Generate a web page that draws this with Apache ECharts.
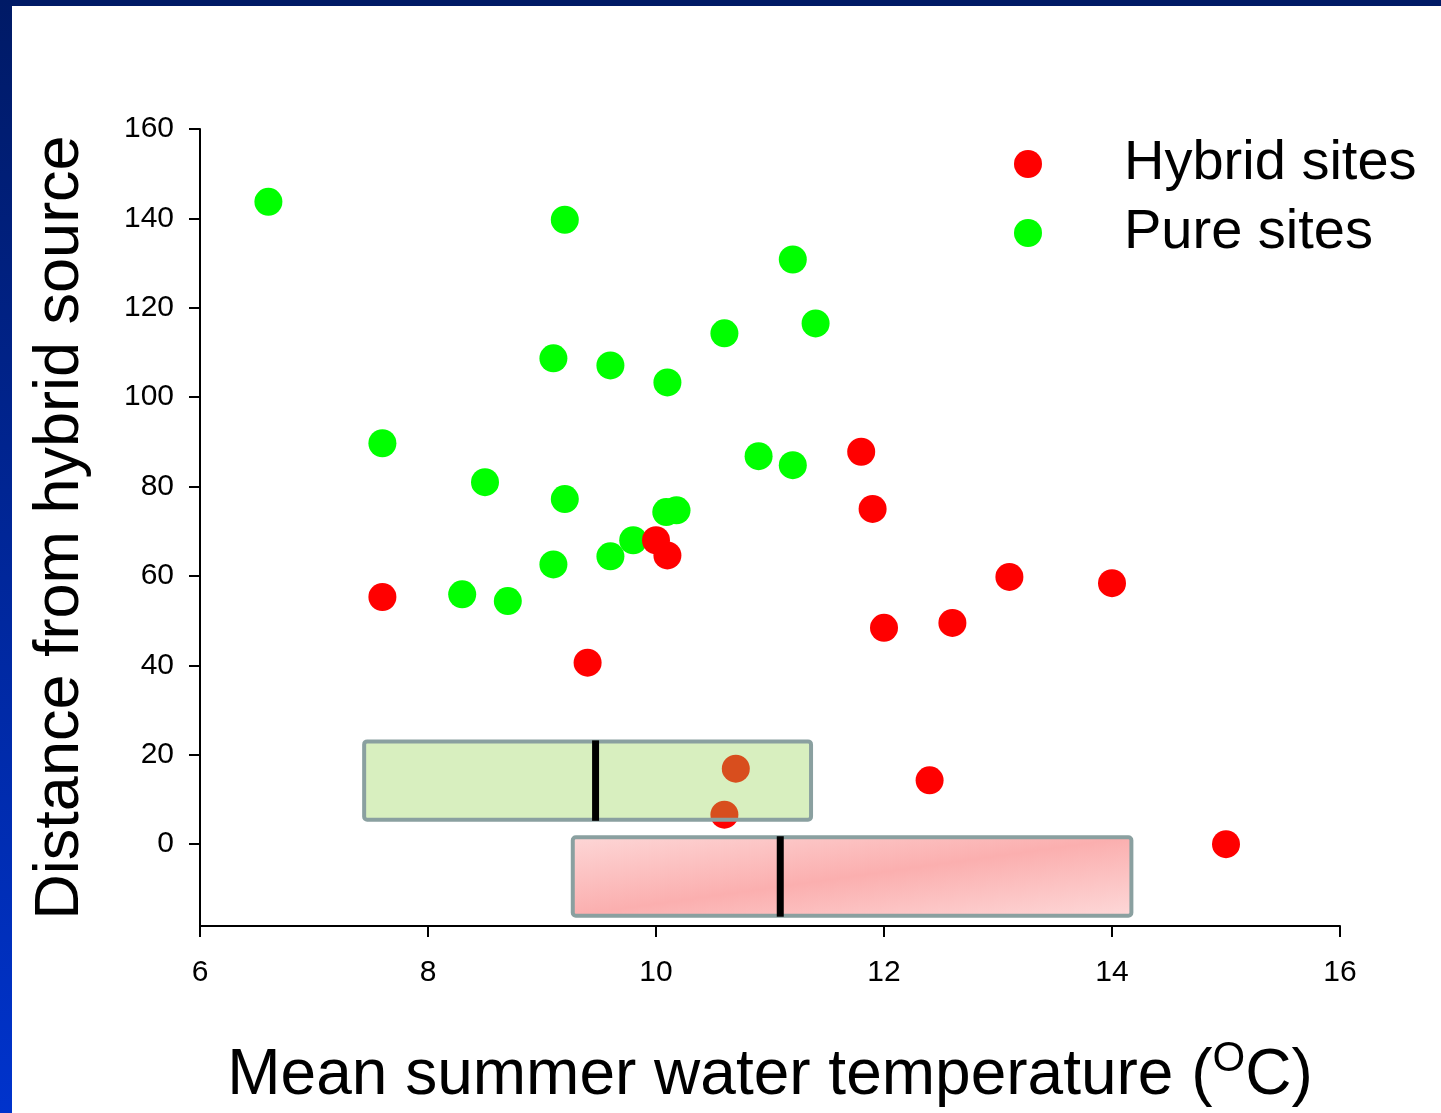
<!DOCTYPE html>
<html>
<head>
<meta charset="utf-8">
<script src="https://cdn.jsdelivr.net/npm/echarts@6/dist/echarts.min.js"></script>
<style>
html,body{margin:0;padding:0;background:#fff;}
#chart{width:1441px;height:1113px;}
</style>
</head>
<body>
<div id="chart"></div>
<script>
// ---- Data ----
const hybridTemp = [11.8, 11.9, 10.0, 10.1, 13.1, 14.0, 7.6, 12.6, 12.0, 9.4, 10.7, 10.6, 12.4, 15.0];
const hybridDist = [87.8, 75.0, 68.0, 64.6, 59.8, 58.4, 55.3, 49.5, 48.4, 40.6, 16.9, 6.6, 14.3, 0];

const pureTemp = [6.6, 9.2, 11.2, 11.4, 10.6, 9.1, 9.6, 10.1, 7.6, 10.9, 11.2, 8.5, 9.2, 10.09, 10.18, 9.8, 9.6, 9.1, 8.3, 8.7];
const pureDist = [143.7, 139.7, 130.8, 116.5, 114.3, 108.7, 107.1, 103.3, 89.7, 86.8, 84.8, 81.0, 77.2, 74.3, 74.7, 68.0, 64.4, 62.6, 55.9, 54.4];

// temperature boxes (pure, hybrid): lower quartile, upper quartile, median, band top, band bottom
const boxNames = ['Pure sites', 'Hybrid sites'];
const boxLower = [7.44, 9.27];
const boxUpper = [11.36, 14.17];
const boxMedian = [9.47, 11.09];
const boxBandTop = [23.0, 1.56];
const boxBandBottom = [5.45, -16.0];

const xTicks = [6, 8, 10, 12, 14, 16];
const yTicks = [0, 20, 40, 60, 80, 100, 120, 140, 160];

// ---- Build ----
const pureData = pureTemp.map((t, i) => [t, pureDist[i]]);
const hybridData = hybridTemp.map((t, i) => [t, hybridDist[i]]);
const boxData = boxNames.map((n, i) => [boxLower[i], boxUpper[i], boxMedian[i], boxBandTop[i], boxBandBottom[i]]);

const FONT = "'Liberation Sans', Arial, Helvetica, sans-serif";

function boxFill(i, x, y, w, h) {
  if (i === 0) return 'rgba(150,211,81,0.37)';
  const cx = x + w / 2, cy = y + h / 2;
  const len = Math.hypot(w, h);
  const dx = h / len, dy = w / len;
  const half = (w / 2) * dx + (h / 2) * dy;
  return new echarts.graphic.LinearGradient(
    cx - dx * half, cy - dy * half, cx + dx * half, cy + dy * half,
    [
      { offset: 0, color: '#fdd6d6' },
      { offset: 0.5, color: '#fbafaf' },
      { offset: 1, color: '#fdd8d8' }
    ], true);
}

const chart = echarts.init(document.getElementById('chart'), null, { renderer: 'canvas' });

const option = {
  backgroundColor: '#ffffff',
  animation: false,
  textStyle: { fontFamily: FONT },
  graphic: [
    { type: 'rect', left: 0, top: 0, z: 100, shape: { width: 1441, height: 6 }, style: { fill: '#001a66' } },
    { type: 'rect', left: 0, top: 0, z: 100, shape: { width: 12, height: 1113 },
      style: { fill: new echarts.graphic.LinearGradient(0, 0, 0, 1, [
        { offset: 0, color: '#001a66' },
        { offset: 1, color: '#0033cc' }
      ]) } }
  ],
  grid: { left: 200, right: 101, top: 129, bottom: 185, containLabel: false },
  legend: {
    orient: 'vertical',
    left: 1009,
    top: 128,
    itemWidth: 28,
    itemHeight: 28,
    itemGap: 7,
    data: ['Hybrid sites', 'Pure sites'],
    icon: 'circle',
    textStyle: { fontSize: 56, color: '#000', fontFamily: FONT, lineHeight: 56, padding: [6, 0, 0, 77] }
  },
  xAxis: {
    type: 'value',
    min: xTicks[0],
    max: xTicks[xTicks.length - 1],
    interval: 2,
    name: '{t|Mean summer water temperature (}{s|O}{t|C)}',
    nameLocation: 'middle',
    nameGap: 112,
    nameTextStyle: {
      color: '#000',
      fontFamily: FONT,
      rich: {
        t: { fontSize: 64, fontFamily: FONT, color: '#000', verticalAlign: 'middle' },
        s: { fontSize: 42, fontFamily: FONT, color: '#000', verticalAlign: 'middle', padding: [0, 0, 34, 0] }
      }
    },
    axisLine: { onZero: false, lineStyle: { color: '#000', width: 2 } },
    axisTick: { show: true, inside: false, length: 11, lineStyle: { color: '#000', width: 2 } },
    axisLabel: { fontSize: 30, color: '#000', margin: 32, fontFamily: FONT },
    splitLine: { show: false }
  },
  yAxis: {
    type: 'value',
    min: -18.3,
    max: 160,
    name: 'Distance from hybrid source',
    nameLocation: 'middle',
    nameRotate: 90,
    nameGap: 108,
    nameTextStyle: { fontSize: 63, color: '#000', fontFamily: FONT },
    axisLine: { show: true, onZero: false, lineStyle: { color: '#000', width: 2 } },
    axisTick: { show: true, inside: false, length: 11, lineStyle: { color: '#000', width: 2 }, customValues: yTicks },
    axisLabel: { fontSize: 30, color: '#000', margin: 26, fontFamily: FONT, customValues: yTicks },
    splitLine: { show: false }
  },
  series: [
    {
      name: 'Pure sites',
      type: 'scatter',
      data: pureData,
      symbol: 'circle',
      symbolSize: 28,
      itemStyle: { color: '#00ff00', opacity: 1 },
      z: 2
    },
    {
      name: 'Hybrid sites',
      type: 'scatter',
      data: hybridData,
      symbol: 'circle',
      symbolSize: 28,
      itemStyle: { color: '#ff0000', opacity: 1 },
      z: 3
    },
    {
      name: 'boxes',
      type: 'custom',
      z: 5,
      encode: { x: [0, 1, 2], y: [3, 4] },
      data: boxData,
      silent: true,
      renderItem: function (params, api) {
        const i = params.dataIndex;
        const p1 = api.coord([api.value(0), api.value(3)]);
        const p2 = api.coord([api.value(1), api.value(4)]);
        const m = api.coord([api.value(2), api.value(3)]);
        const w = p2[0] - p1[0], h = p2[1] - p1[1];
        return {
          type: 'group',
          children: [
            {
              type: 'rect',
              shape: { x: p1[0], y: p1[1], width: w, height: h, r: 3 },
              style: { fill: boxFill(i, p1[0], p1[1], w, h), stroke: '#8aa0a0', lineWidth: 4 }
            },
            {
              type: 'line',
              shape: { x1: m[0], y1: p1[1] - 1, x2: m[0], y2: p2[1] + 1 },
              style: { stroke: '#000', lineWidth: 7 }
            }
          ]
        };
      }
    }
  ]
};

chart.setOption(option);
</script>
</body>
</html>
